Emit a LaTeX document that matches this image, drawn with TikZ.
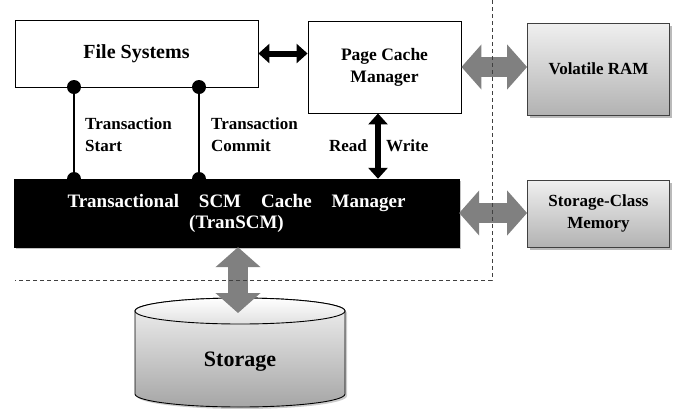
\documentclass[tikz,border=0pt]{standalone}
\usepackage{fontspec}
\setmainfont{Liberation Serif}
\usetikzlibrary{arrows.meta,shadows}
\begin{document}
\begin{tikzpicture}[x=1pt,y=-1pt,
  plainbox/.style={draw=black,line width=0.9pt,fill=white,inner sep=0pt,align=center,font=\bfseries\fontsize{17.5}{22}\selectfont},
  graybox/.style={draw=black!75,line width=0.8pt,top color=black!6,bottom color=black!30,inner sep=0pt,align=center,
     font=\bfseries\fontsize{17}{22}\selectfont,drop shadow={shadow xshift=2.5pt,shadow yshift=-2.5pt,fill=black!45,opacity=0.6}},
  blackbox/.style={draw=black,fill=black,text=white,inner sep=0pt,align=center,
     font=\bfseries\fontsize{19}{21}\selectfont,drop shadow={shadow xshift=2pt,shadow yshift=-2pt,fill=black!40,opacity=0.6}},
  dot/.style={circle,fill=black,inner sep=0pt,minimum size=14pt},
  conn/.style={line width=1.3pt,draw=black},
  lbl/.style={inner sep=0pt,align=left,font=\bfseries\fontsize{17}{22}\selectfont},
  blkarrow/.style={line width=6pt,draw=black,{Triangle[length=11pt,width=19pt]}-{Triangle[length=11pt,width=19pt]}},
  fatarrow/.style={line width=20pt,draw=black!50,{Triangle[length=20pt,width=44pt]}-{Triangle[length=20pt,width=44pt]}},
  sepline/.style={draw=black!75,line width=0.9pt,dash pattern=on 4pt off 3pt}]
\useasboundingbox (0,0) rectangle (680,408);

% storage cylinder
\path[draw=black,line width=0.9pt,top color=black!5,bottom color=black!35,
      drop shadow={shadow xshift=2pt,shadow yshift=-2pt,fill=black!40,opacity=0.5}]
  (135,311) -- (135,394) arc[start angle=180,end angle=360,x radius=105pt,y radius=13pt]
  -- (345,311) arc[start angle=0,end angle=180,x radius=105pt,y radius=13pt] -- cycle;
\path[draw=black,line width=0.9pt,top color=white,bottom color=black!12] (240,311) ellipse[x radius=105pt,y radius=13pt];
\node[inner sep=0pt,font=\bfseries\fontsize{22}{26}\selectfont] (st) at (240,362) {Storage};

% boxes
\node[plainbox,minimum width=243pt,minimum height=67pt,font=\bfseries\fontsize{20}{24}\selectfont] (fs) at (136.5,53.5) {File Systems};
\node[plainbox,minimum width=153pt,minimum height=92pt] (pcm) at (384.5,67) {Page Cache\\Manager};
\node[blackbox,minimum width=445pt,minimum height=68pt] (tscm) at (236.5,213)
  {\makebox[338pt][s]{Transactional SCM Cache Manager}\\(TranSCM)};
\node[graybox,minimum width=142pt,minimum height=92pt] (vram) at (598.5,69) {Volatile RAM};
\node[graybox,minimum width=142pt,minimum height=67pt] (scm) at (598.5,213.5) {Storage-Class\\Memory};

% transaction connectors
\node[dot] (d1) at (74,87) {};
\node[dot] (d2) at (74,179) {};
\node[dot] (d3) at (199,87) {};
\node[dot] (d4) at (199,179) {};
\draw[conn] (d1) -- (d2);
\draw[conn] (d3) -- (d4);
\node[lbl,anchor=west] (ts) at (85,135) {Transaction\\Start};
\node[lbl,anchor=west] (tc) at (211,135) {Transaction\\Commit};

% black arrows
\draw[blkarrow] (fs.east) -- (pcm.west |- fs.east);
\coordinate (rwx) at (378,0);
\draw[blkarrow] (pcm.south -| rwx) -- (tscm.north -| rwx);
\node[lbl,anchor=east] (rd) at (367,146) {Read};
\node[lbl,anchor=west] (wr) at (386,146) {Write};

% fat gray arrows
\draw[fatarrow] (pcm.east) -- (vram.west |- pcm.east);
\draw[fatarrow] (tscm.east) -- (scm.west |- tscm.east);
\coordinate (xs) at (238,0);
\coordinate (ys) at (0,313);
\draw[fatarrow] (tscm.south -| xs) -- (xs |- ys);

% separator
\coordinate (s1) at (492,0);
\coordinate (s2) at (492,280);
\coordinate (s3) at (15,280);
\draw[sepline] (s1) -- (s2) -- (s3);
\end{tikzpicture}
\end{document}
